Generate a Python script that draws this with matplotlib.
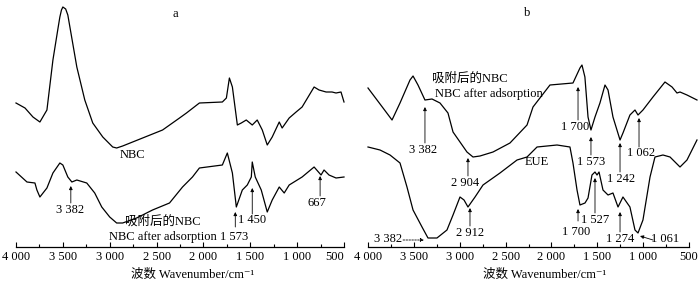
import matplotlib
matplotlib.use("Agg")
import matplotlib.pyplot as plt
from matplotlib.ticker import MultipleLocator, FuncFormatter

FAM = ['Liberation Serif', 'Noto Sans CJK SC', 'DejaVu Sans']
plt.rcParams['font.family'] = FAM
plt.rcParams['font.size'] = 9

# ---- panel a ----
a_nbc_w = [4000, 3904, 3819, 3745, 3670, 3606, 3553, 3532, 3515, 3500, 3470, 3447, 3351, 3266, 3181,
           3074, 2968, 2926, 2862, 2649, 2436, 2255, 2181, 2043, 1798, 1755, 1723, 1691, 1638, 1596,
           1543, 1479, 1426, 1372, 1319, 1266, 1191, 1160, 1085, 1011, 947, 819, 766, 691, 628,
           585, 532, 500]
a_nbc_v = [144, 139, 130, 125, 137, 187, 218, 230, 237, 240, 238, 232, 180, 147, 124,
           110, 100, 99, 101, 109, 117, 129, 134, 144, 145, 149, 169, 160, 122, 124,
           127, 122, 127, 117, 102, 110, 125, 119, 129, 135, 140, 160, 157, 155, 155,
           154, 155, 145]
a_ads_w = [4000, 3883, 3798, 3777, 3745, 3670, 3606, 3532, 3500, 3447, 3404, 3351, 3245, 3160, 3085,
           3000, 2926, 2862, 2713, 2543, 2362, 2223, 2117, 2043, 1798, 1745, 1691, 1649, 1585, 1532,
           1489, 1479, 1447, 1383, 1319, 1266, 1191, 1138, 1085, 947, 819, 745, 713, 660, 585, 500]
a_ads_v = [75, 65, 64, 57, 50, 59, 74, 84, 82, 70, 65, 67, 64, 54, 40,
           30, 24, 24, 29, 37, 44, 60, 70, 79, 82, 94, 74, 40, 57, 62,
           70, 85, 70, 57, 35, 47, 60, 54, 62, 70, 80, 72, 77, 72, 69, 70]

# ---- panel b ----
b_ads_w = [4000, 3836, 3738, 3651, 3542, 3509, 3455, 3379, 3302, 3215, 3128, 3073, 2997, 2921, 2855,
           2779, 2637, 2452, 2266, 2201, 2016, 1765, 1689, 1667, 1635, 1601, 1569, 1525, 1471, 1416,
           1383, 1329, 1252, 1220, 1144, 1089, 1056, 1002, 893, 762, 685, 631, 598, 522, 413]
b_ads_v = [159, 139, 127, 144, 167, 171, 162, 147, 148, 144, 134, 115, 105, 95, 90,
           91, 95, 104, 122, 140, 162, 164, 179, 182, 170, 130, 117, 130, 144, 162,
           157, 130, 107, 114, 132, 137, 132, 137, 150, 165, 160, 154, 155, 152, 147]
b_eue_w = [4000, 3869, 3760, 3651, 3575, 3509, 3411, 3346, 3248, 3139, 3073, 2997, 2953, 2910, 2833,
           2746, 2561, 2375, 2266, 2157, 1939, 1798, 1765, 1721, 1689, 1634, 1601, 1558, 1525, 1503,
           1481, 1438, 1383, 1329, 1274, 1220, 1144, 1089, 1056, 1002, 925, 871, 784, 707, 598, 522, 413]
b_eue_v = [100, 97, 92, 84, 60, 37, 20, 9, 9, 17, 32, 50, 47, 40, 50,
           62, 74, 87, 90, 100, 102, 100, 84, 57, 42, 44, 49, 72, 75, 72,
           75, 57, 52, 54, 40, 50, 40, 17, 14, 27, 70, 90, 92, 90, 80, 87, 107]

# annotations: (text, text_w, text_v, arrow_w_from, arrow_v_from, arrow_w_to, arrow_v_to)
a_notes = [
    ("3 382", 3426, 37, 3415, 44, 3415, 61),
    ("1 573", 1670, 10, 1660, 20, 1660, 35),
    ("1 450", 1479, 27, 1479, 33, 1479, 59),
    ("667", 787, 44, 755, 51, 755, 71),
]
b_notes = [
    ("3 382", 3395, 97, 3379, 104, 3379, 140),
    ("2 904", 2942, 64, 2910, 71, 2910, 89),
    ("2 912", 2888, 14, 2888, 21, 2888, 39),
    ("1 700", 1743, 120, 1710, 127, 1710, 160),
    ("1 573", 1569, 85, 1569, 92, 1569, 110),
    ("1 242", 1242, 68, 1252, 75, 1252, 104),
    ("1 062", 1023, 94, 1045, 100, 1045, 129),
    ("1 700", 1732, 15, 1710, 26, 1710, 38),
    ("1 527", 1525, 27, 1525, 34, 1525, 69),
    ("1 274", 1252, 8, 1252, 15, 1252, 35),
    ("1 061", 762, 8, 893, 7, 1034, 11),
]

W, H = 700, 285
fig = plt.figure(figsize=(W / 100, H / 100), dpi=100)
axa = fig.add_axes([16 / W, 1 - 247 / H, 328 / W, 247 / H])
axb = fig.add_axes([368 / W, 1 - 247 / H, 321 / W, 247 / H])


def style(ax):
    ax.set_xlim(4000, 500)
    ax.set_ylim(0, 247)
    for s in ['top', 'left', 'right']:
        ax.spines[s].set_visible(False)
    ax.spines['bottom'].set_linewidth(0.9)
    ax.set_yticks([])
    ax.xaxis.set_major_locator(MultipleLocator(500))
    ax.xaxis.set_minor_locator(MultipleLocator(250))
    ax.xaxis.set_major_formatter(FuncFormatter(lambda v, p: f"{int(v):,}".replace(",", " ")))
    ax.tick_params(axis='x', which='major', direction='in', length=3.5, width=0.8, labelsize=9, pad=3)
    ax.tick_params(axis='x', which='minor', direction='in', length=2, width=0.8)
    ax.patch.set_alpha(0)


def notes(ax, lst):
    for t, tw, tv, fw, fv, aw, av in lst:
        ax.text(tw, tv, t, ha='center', va='center', fontsize=9)
        ax.annotate("", xy=(aw, av), xytext=(fw, fv),
                    arrowprops=dict(arrowstyle='-|>', lw=0.6, color='black',
                                    mutation_scale=5, shrinkA=0, shrinkB=0))


for ax in (axa, axb):
    style(ax)

fig.canvas.draw()
labs = axa.get_xticklabels()
for lab in labs:
    if lab.get_text() == "500":
        lab.set_ha('right')

axa.plot(a_nbc_w, a_nbc_v, color='black', lw=0.9, clip_on=False)
axa.plot(a_ads_w, a_ads_v, color='black', lw=0.9, clip_on=False)
axb.plot(b_ads_w, b_ads_v, color='black', lw=0.9, clip_on=False)
axb.plot(b_eue_w, b_eue_v, color='black', lw=0.9, clip_on=False)

notes(axa, a_notes)
notes(axb, b_notes)

axa.text(2755, 92, "NBC", ha='center', va='center', fontsize=9)
axa.text(2436, 25, "吸附后的NBC", ha='center', va='center', fontsize=9)
axa.text(2436, 10, "NBC after adsorption", ha='center', va='center', fontsize=9)

axb.text(2888, 168, "吸附后的NBC", ha='center', va='center', fontsize=9)
axb.text(2681, 153, "NBC after adsorption", ha='center', va='center', fontsize=9)
axb.text(2157, 85, "EUE", ha='center', va='center', fontsize=9)
axb.text(3782, 8, "3 382", ha='center', va='center', fontsize=9)
axb.annotate("", xy=(3389, 7), xytext=(3618, 7),
             arrowprops=dict(arrowstyle='-|>', lw=0.6, color='black', linestyle=(0, (2, 1.5)),
                             mutation_scale=5, shrinkA=0, shrinkB=0))

fig.text(175 / W, 1 - 14 / H, "a", ha='center', va='center', fontsize=9)
fig.text(527 / W, 1 - 13 / H, "b", ha='center', va='center', fontsize=9)
fig.text(193 / W, 1 - 275 / H, "波数 Wavenumber/cm⁻¹", ha='center', va='center', fontsize=9)
fig.text(545 / W, 1 - 275 / H, "波数 Wavenumber/cm⁻¹", ha='center', va='center', fontsize=9)

fig.savefig("out.png", dpi=100, facecolor='white')
